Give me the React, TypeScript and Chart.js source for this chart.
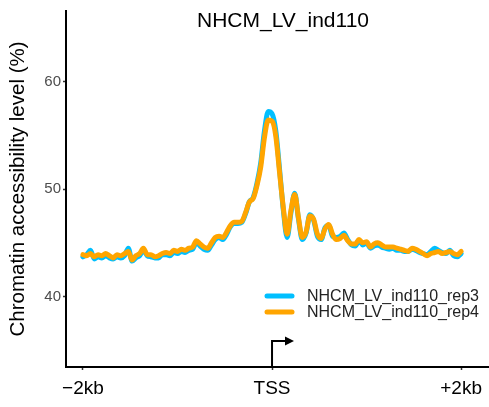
import React, { useEffect, useRef } from "react";
import { Chart, registerables } from "chart.js";

Chart.register(...registerables);

const chartTitle = "NHCM_LV_ind110";
const yAxisTitle = "Chromatin accessibility level (%)";
const seriesNames = ["NHCM_LV_ind110_rep3", "NHCM_LV_ind110_rep4"];
const seriesColors = ["#00BFFF", "#FFA500"];

// positions in bp relative to TSS, every 40 bp from -2000 to +2000
const positions: number[] = Array.from({ length: 101 }, (_, i) => -2000 + 40 * i);

const xTickValues = [-2000, 0, 2000];
const xTickLabels = ["\u22122kb", "TSS", "+2kb"];
const yTickValues = [40, 50, 60];

const rep3 = [
  43.7, 43.9, 44.3, 43.5, 43.7, 43.6, 43.8, 43.6, 43.5, 43.7,
  43.6, 43.8, 44.5, 43.3, 43.6, 43.8, 44.3, 43.8, 43.7, 43.6,
  43.6, 43.9, 43.9, 43.8, 44.1, 44.0, 44.2, 44.1, 44.3, 44.4,
  45.0, 44.7, 44.4, 44.3, 44.8, 45.3, 45.5, 45.3, 45.8, 46.5,
  46.8, 46.8, 46.9, 47.7, 48.8, 49.2, 50.5, 52.4, 55.4, 57.2,
  57.0, 55.4, 51.8, 48.0, 45.5, 47.8, 49.6, 47.2, 45.3, 45.9,
  47.6, 47.1, 45.6, 45.3, 46.4, 46.6, 45.6, 45.5, 45.6, 45.9,
  45.3, 44.8, 44.7, 45.2, 44.8, 45.0, 44.5, 44.7, 44.8, 44.6,
  44.5, 44.4, 44.5, 44.3, 44.3, 44.2, 44.2, 44.4, 44.3, 44.1,
  44.0, 43.9, 44.2, 44.5, 44.3, 44.1, 44.0, 44.3, 43.8, 43.7, 44.0,
];

const rep4 = [
  43.9, 43.8, 44.0, 43.7, 43.9, 43.8, 44.0, 43.8, 43.6, 43.9,
  43.8, 44.0, 44.2, 43.4, 43.8, 44.0, 44.5, 43.9, 43.9, 43.7,
  43.8, 44.0, 44.1, 44.0, 44.3, 44.2, 44.4, 44.3, 44.5, 44.6,
  45.2, 44.9, 44.6, 44.5, 45.0, 45.5, 45.6, 45.5, 46.0, 46.6,
  46.9, 46.9, 47.0, 47.8, 48.8, 49.1, 50.3, 52.0, 54.8, 56.4,
  56.3, 54.9, 51.5, 48.2, 45.8, 48.0, 49.5, 47.3, 45.5, 46.0,
  47.5, 47.2, 45.8, 45.4, 46.3, 46.7, 45.8, 45.3, 45.4, 45.7,
  45.2, 44.9, 44.9, 45.3, 45.0, 45.1, 44.6, 44.9, 45.0, 44.8,
  44.6, 44.6, 44.6, 44.5, 44.4, 44.3, 44.2, 44.5, 44.4, 44.2,
  44.0, 43.8, 44.0, 44.1, 44.2, 44.0, 44.1, 44.2, 44.0, 43.9, 44.2,
];

const FONT = "'Liberation Sans', Arial, sans-serif";

const overlayPlugin = {
  id: "overlay",
  afterDraw(chart: any) {
    const { ctx, chartArea, scales } = chart;
    ctx.save();
    // title
    ctx.fillStyle = "#000";
    ctx.font = `21px ${FONT}`;
    ctx.textAlign = "center";
    ctx.textBaseline = "alphabetic";
    ctx.fillText(chartTitle, 283, 27);

    // TSS arrow
    const x0 = scales.x.getPixelForValue(0);
    const yb = chartArea.bottom;
    ctx.strokeStyle = "#000";
    ctx.lineWidth = 2;
    ctx.beginPath();
    ctx.moveTo(x0, yb);
    ctx.lineTo(x0, yb - 26);
    ctx.lineTo(x0 + 16, yb - 26);
    ctx.stroke();
    ctx.fillStyle = "#000";
    ctx.beginPath();
    ctx.moveTo(x0 + 22, yb - 26);
    ctx.lineTo(x0 + 13, yb - 30.5);
    ctx.lineTo(x0 + 13, yb - 21.5);
    ctx.closePath();
    ctx.fill();

    // legend
    ctx.font = `16px ${FONT}`;
    ctx.textAlign = "left";
    ctx.textBaseline = "middle";
    seriesNames.forEach((name, i) => {
      const y = 296 + i * 16;
      ctx.strokeStyle = seriesColors[i];
      ctx.lineWidth = 5;
      ctx.lineCap = "round";
      ctx.beginPath();
      ctx.moveTo(267, y);
      ctx.lineTo(292, y);
      ctx.stroke();
      ctx.fillStyle = "#222";
      ctx.fillText(name, 307, y + 1);
    });
    ctx.restore();
  },
};

export default function App() {
  const ref = useRef<HTMLCanvasElement | null>(null);
  useEffect(() => {
    if (!ref.current) return;
    Chart.defaults.font.family = FONT;
    const chart = new Chart(ref.current, {
      type: "line",
      data: {
        labels: positions,
        datasets: [
          {
            label: seriesNames[0],
            data: positions.map((p, i) => ({ x: p, y: rep3[i] })),
            borderColor: seriesColors[0],
            borderWidth: 5,
            pointRadius: 0,
            cubicInterpolationMode: "monotone",
            borderJoinStyle: "round",
            borderCapStyle: "round",
            order: 2,
          },
          {
            label: seriesNames[1],
            data: positions.map((p, i) => ({ x: p, y: rep4[i] })),
            borderColor: seriesColors[1],
            borderWidth: 5,
            pointRadius: 0,
            cubicInterpolationMode: "monotone",
            borderJoinStyle: "round",
            borderCapStyle: "round",
            order: 1,
          },
        ],
      },
      options: {
        animation: false,
        responsive: false,
        maintainAspectRatio: false,
        layout: { padding: { top: 8, right: 0, left: 0, bottom: 0 } },
        plugins: { legend: { display: false }, tooltip: { enabled: false }, title: { display: false } },
        scales: {
          x: {
            type: "linear",
            min: -2179,
            max: 2285,
            afterBuildTicks: (s: any) => {
              s.ticks = xTickValues.map((v) => ({ value: v }));
            },
            afterFit: (s: any) => {
              s.height = 40;
            },
            ticks: {
              autoSkip: false,
              maxRotation: 0,
              color: "#000",
              font: { size: 19 },
              padding: 7,
              callback: (v: any) => {
                const idx = xTickValues.indexOf(Number(v));
                return idx >= 0 ? xTickLabels[idx] : "";
              },
            },
            grid: { display: true, drawOnChartArea: false, drawTicks: true, tickLength: 3, tickColor: "#333", tickWidth: 1.5 },
            border: { display: true, color: "#000", width: 2 },
          },
          y: {
            type: "linear",
            min: 33.46,
            max: 66.54,
            afterBuildTicks: (s: any) => {
              s.ticks = yTickValues.map((v) => ({ value: v }));
            },
            afterFit: (s: any) => {
              s.width = 66;
            },
            ticks: { color: "#4D4D4D", font: { size: 15 }, padding: 2 },
            grid: { display: true, drawOnChartArea: false, drawTicks: true, tickLength: 3, tickColor: "#333", tickWidth: 1.5 },
            border: { display: true, color: "#000", width: 2 },
            title: { display: true, text: yAxisTitle, color: "#000", font: { size: 20.5 }, padding: { top: 6, bottom: 0 } },
          },
        },
      },
      plugins: [overlayPlugin],
    } as any);
    return () => chart.destroy();
  }, []);
  return (
    <div style={{ position: "fixed", left: 0, top: 0, width: 489, height: 407, background: "#fff" }}>
      <canvas ref={ref} width={489} height={407} style={{ display: "block", width: 489, height: 407 }} />
    </div>
  );
}
